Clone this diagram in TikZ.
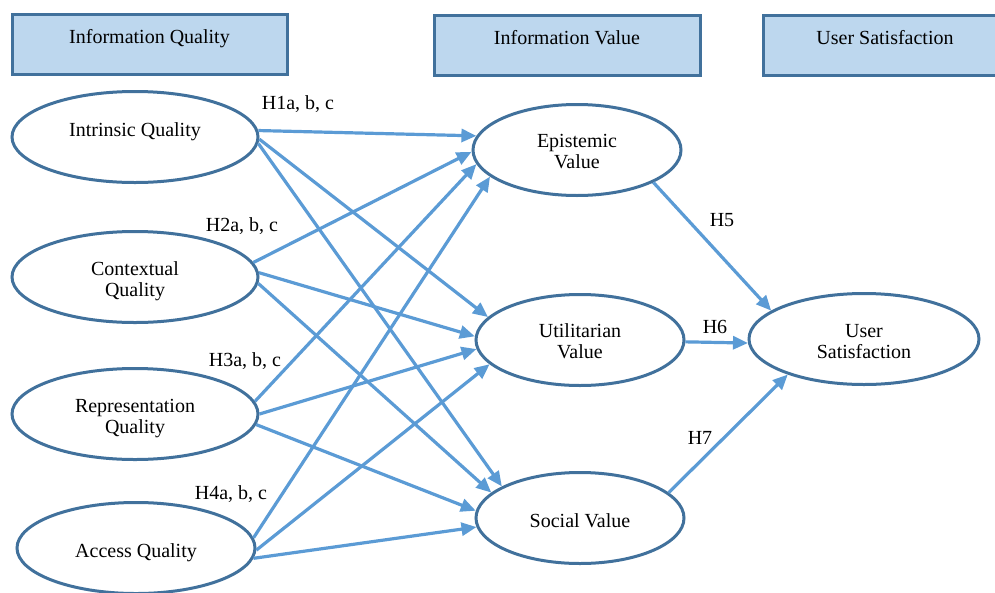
\documentclass[tikz,border=0pt]{standalone}
\usepackage{fontspec}
\setmainfont{Liberation Serif}
\usetikzlibrary{shapes.geometric,arrows.meta}
\definecolor{bord}{HTML}{41719C}
\definecolor{arr}{HTML}{5B9BD5}
\definecolor{hfill}{HTML}{BDD7EE}
\begin{document}
\begin{tikzpicture}[x=1pt,y=-1pt,
  font=\fontsize{20}{21}\selectfont,
  hdr/.style={draw=bord, fill=hfill, line width=3pt, minimum height=60pt, inner sep=0pt},
  ell/.style={ellipse, draw=bord, line width=3pt, inner sep=0pt, minimum height=91pt},
  txt/.style={align=center, inner sep=0pt, yshift=-2.5pt},
  htxt/.style={inner sep=0pt, yshift=5pt},
  link/.style={draw=arr, line width=3.2pt, -{Triangle[length=15pt,width=13pt]}},
  hyp/.style={inner sep=0pt}]
\useasboundingbox (0,0) rectangle (995,592);
% headers
\node[hdr, minimum width=275pt, label={[htxt]center:Information Quality}] (hq) at (149.5,44) {};
\node[hdr, minimum width=266pt, label={[htxt, yshift=2pt]center:Information Value}] (hv) at (567,45) {};
\node[hdr, minimum width=244pt, label={[htxt, yshift=2pt]center:User Satisfaction}] (hs) at (885,45) {};
% source ellipses
\node[ell, minimum width=246pt, label={[txt, yshift=8pt]center:Intrinsic Quality}] (iq) at (135,137) {};
\node[ell, minimum width=246pt, label={[txt, yshift=-1.5pt]center:Contextual\\Quality}] (cq) at (135,277) {};
\node[ell, minimum width=246pt, label={[txt, yshift=-2pt]center:Representation\\Quality}] (rq) at (135,414) {};
\node[ell, minimum width=238pt, label={[txt, yshift=-2pt]center:Access Quality}] (aq) at (136,548) {};
% value ellipses
\node[ell, minimum width=208pt, label={[txt, yshift=1pt]center:Epistemic\\Value}] (ev) at (577,150) {};
\node[ell, minimum width=208pt, label={[txt, yshift=1pt]center:Utilitarian\\Value}] (uv) at (580,340) {};
\node[ell, minimum width=208pt, label={[txt]center:Social Value}] (sv) at (580,518) {};
% outcome
\node[ell, minimum width=230pt, label={[txt]center:User\\Satisfaction}] (us) at (864,339) {};
% arrows from Intrinsic
\draw[link] (iq.3) -- (ev.172.4);
\draw[link] (iq.-1) -- (uv.166);
\draw[link] (iq.-3) -- (sv.158.8);
% Contextual
\draw[link] (cq.7) -- (ev.181.7);
\draw[link] (cq.2.8) -- (uv.178.4);
\draw[link] (cq.-3.8) -- (sv.164.2);
% Representation
\draw[link] (rq.6.8) -- (ev.188.8);
\draw[link] (rq.0.5) -- (uv.185.6);
\draw[link] (rq.-5.6) -- (sv.176.6);
% Access
\draw[link] (aq.5.3) -- (ev.197.8);
\draw[link] (aq.-1) -- (uv.195.9);
\draw[link] (aq.-5.7) -- (sv.185.1);
% to user satisfaction
\draw[link] (ev.-23.5) -- (us.163.6);
\draw[link] (uv.-1.6) -- (us.182);
\draw[link] (sv.16.1) -- (us.205);
% hypothesis labels
\node[hyp] (h1) at (298,104) {H1a, b, c};
\node[hyp] (h2) at (242,226) {H2a, b, c};
\node[hyp] (h3) at (245,361) {H3a, b, c};
\node[hyp] (h4) at (231,494) {H4a, b, c};
\node[hyp] (h5) at (722,220) {H5};
\node[hyp] (h6) at (715,327) {H6};
\node[hyp] (h7) at (700,438) {H7};
\end{tikzpicture}
\end{document}
